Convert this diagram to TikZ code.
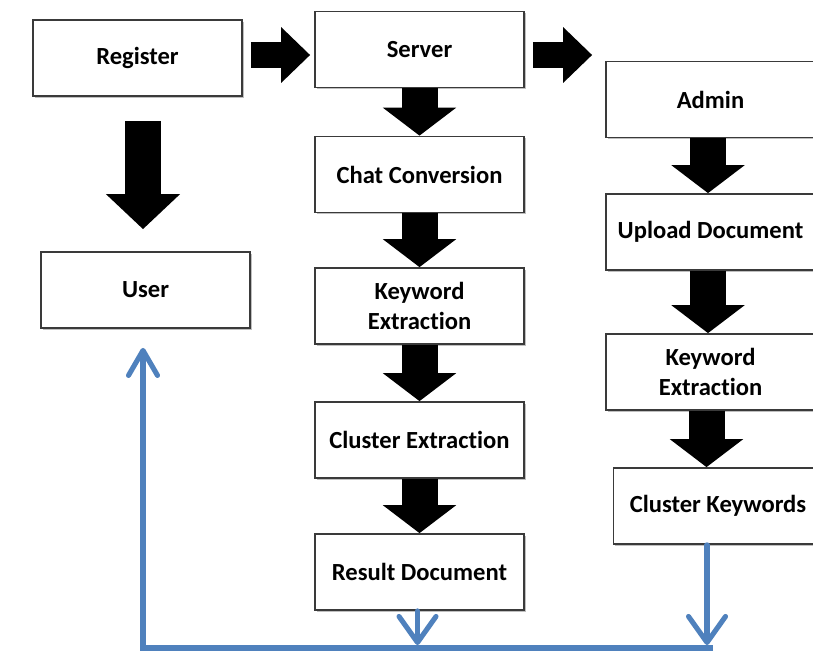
\documentclass[tikz,border=0pt]{standalone}
\usepackage{fontspec}
\setsansfont{Carlito}[Ligatures=NoCommon]
\usepackage{xcolor}
\definecolor{flowblue}{HTML}{4F81BD}
\definecolor{boxline}{HTML}{3A3A3A}
\usepackage{tikz}
\usetikzlibrary{positioning,arrows.meta,calc,shadows}

\begin{document}
\begin{tikzpicture}[
  x=0.02cm, y=-0.02cm,
  font=\sffamily\bfseries\fontsize{14}{17}\selectfont,
  stagebox/.style={
    draw=boxline, line width=1pt, fill=white,
    minimum width=4.18cm, minimum height=1.52cm,
    align=center, inner sep=2pt,
    drop shadow={shadow xshift=0.9pt, shadow yshift=-1.1pt,
      fill=black!55, opacity=0.45},
  },
  downblk/.style={
    draw=black, line width=0.72cm,
    -{Triangle[length=0.56cm, width=1.44cm]},
  },
  sideblk/.style={
    draw=black, line width=0.52cm,
    -{Triangle[length=0.58cm, width=1.08cm]},
  },
  fbline/.style={draw=flowblue, line width=2.9pt, line cap=round},
  fbarrow/.style={fbline,
    -{Straight Barb[length=0.52cm, width=0.74cm, round]}},
]

% === CANVAS ===
\fill[white] (0,0) rectangle (813,664);
\useasboundingbox (0,0) rectangle (813,664);

% === LEFT COLUMN ===
\node[stagebox] (reg) at (137.5, 58)  {Register};
\node[stagebox] (usr) at (145.5, 290) {User};

% === MIDDLE COLUMN ===
\node[stagebox] (srv) at (419.5, 49.5) {Server};
\node[stagebox] (chat) at (419.5, 174.5) {Chat Conversion};
\node[stagebox] (kwm) at (419.5, 306) {Keyword\\Extraction};
\node[stagebox] (clx) at (419.5, 440) {Cluster Extraction};
\node[stagebox] (res) at (419.5, 572) {Result Document};

% === RIGHT COLUMN (runs off the page edge) ===
\node[stagebox] (adm) at (710.5, 99.5) {Admin};
\node[stagebox] (upl) at (710.5, 232) {Upload Document};
\node[stagebox] (kwr) at (710.5, 372) {Keyword\\Extraction};
\node[stagebox] (ckw) at (718, 506) {Cluster Keywords};

% --- block arrows across the top ---
\draw[sideblk, shorten <=0.16cm, shorten >=0.08cm]
  ($(reg.east)+(0,-3)$) -- ($(srv.west |- reg.east)+(0,-3)$);
\draw[sideblk, shorten <=0.16cm, shorten >=0.26cm]
  ($(srv.east)+(0,5.5)$) -- ($(adm.west |- srv.east)+(0,5.5)$);

% --- block arrows down ---
\draw[downblk, -{Triangle[length=0.7cm, width=1.44cm]},
  shorten <=0.48cm, shorten >=0.44cm]
  ($(reg.south)+(5.5,0)$) -- ($(reg.south |- usr.north)+(5.5,0)$);
\draw[downblk] (srv.south) -- (chat.north);
\draw[downblk] (chat.south) -- (kwm.north);
\draw[downblk] (kwm.south) -- (clx.north);
\draw[downblk] (clx.south) -- (res.north);
\draw[downblk] ($(adm.south)+(-2.5,0)$) -- ($(upl.north)+(-2.5,0)$);
\draw[downblk] ($(upl.south)+(-2.5,0)$) -- ($(kwr.north)+(-2.5,0)$);
\draw[downblk] ($(kwr.south)+(-4,0)$) -- ($(kwr.south |- ckw.north)+(-4,0)$);

% === FEEDBACK LOOP (blue) ===
\coordinate (fbL) at (143, 648);
\coordinate (fbR) at (707, 648);
\draw[fbarrow] ($(res.south)+(-2,0)$) -- ($(res.south |- fbL)+(-2,-3)$);
\draw[fbarrow] (ckw.south -| fbR) -- ($(fbR)+(0,-3)$);
\draw[fbarrow, -{Straight Barb[length=0.5cm, width=0.58cm, round]},
  line cap=butt, shorten >=0.38cm]
  ($(fbR)+(6,0)$) -- (fbL) -- (usr.south -| fbL);

\end{tikzpicture}
\end{document}
